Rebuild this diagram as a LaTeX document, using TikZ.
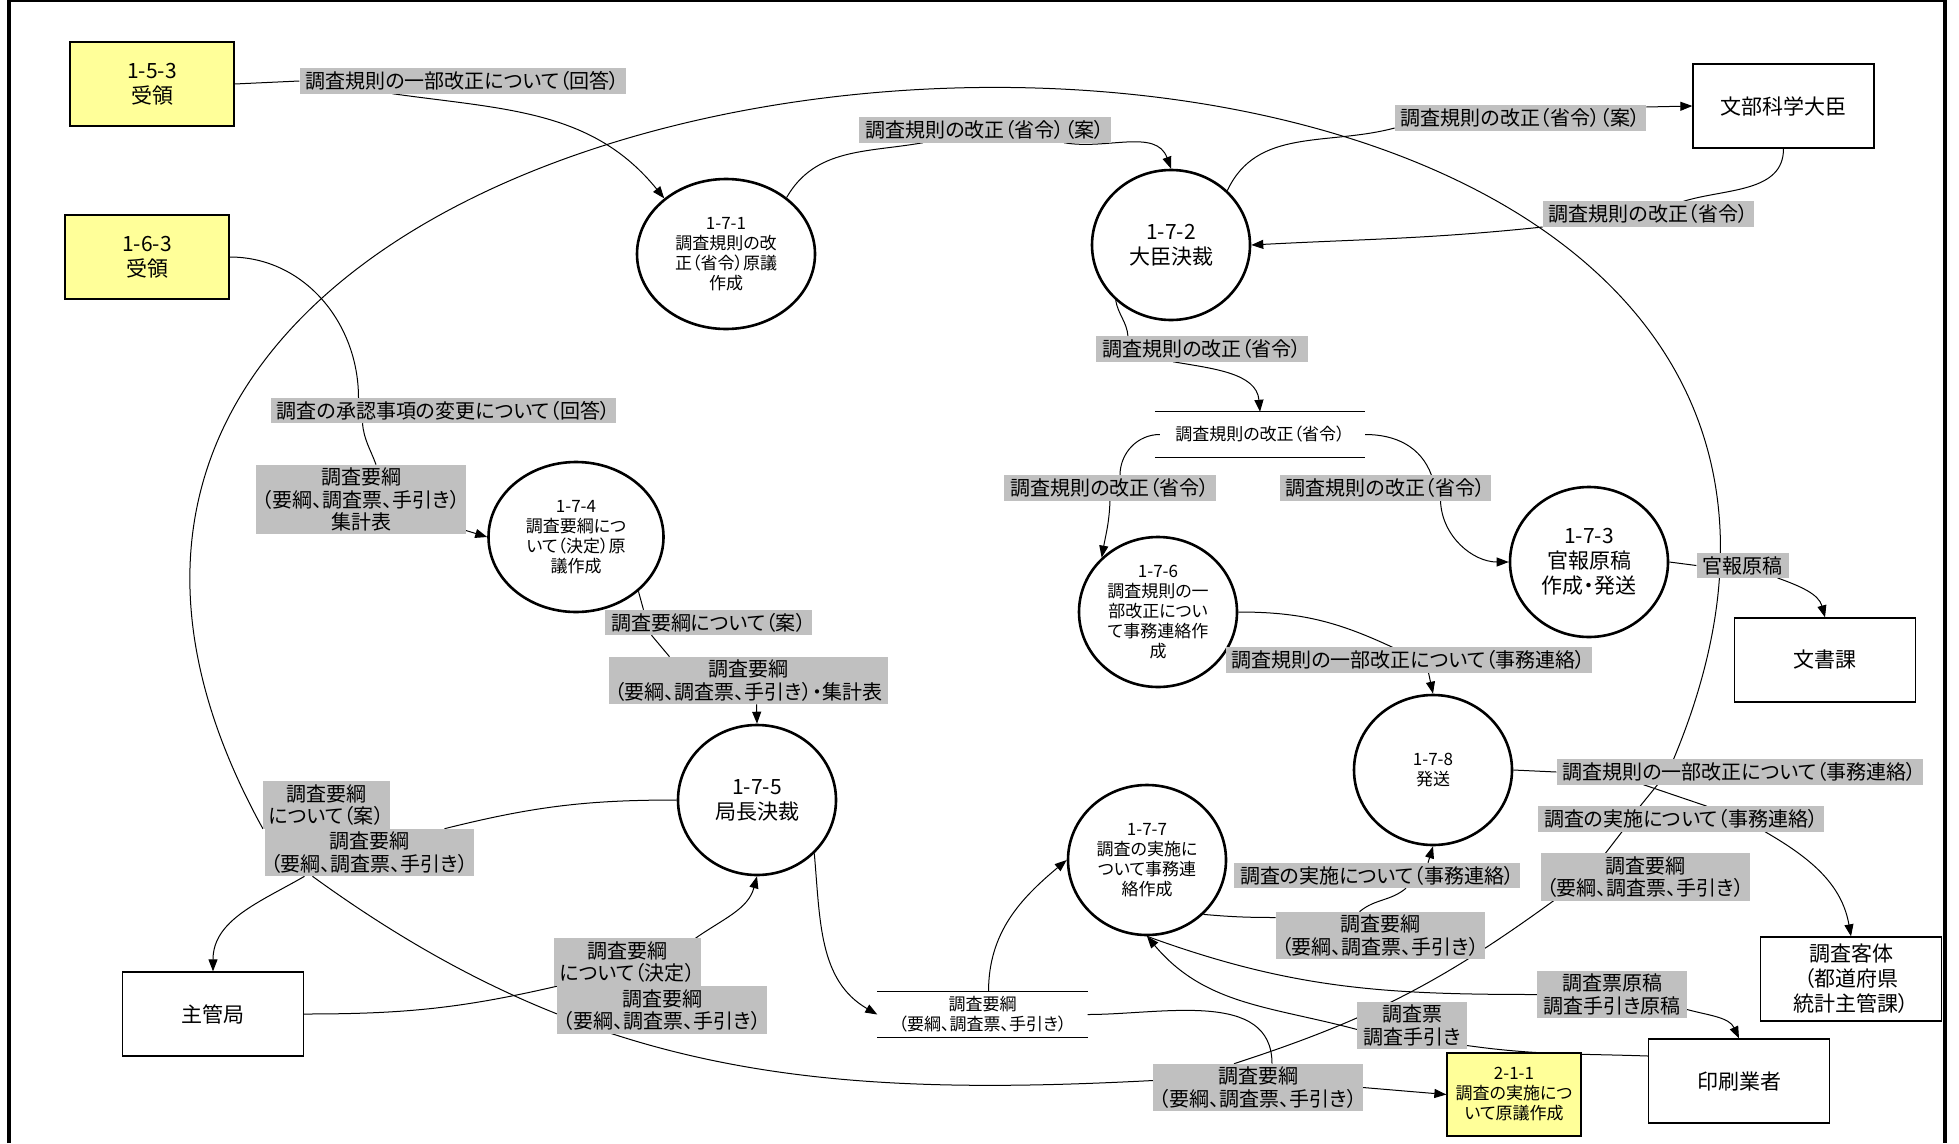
\documentclass[tikz,border=0pt]{standalone}
\usepackage{fontspec}
\setmainfont{Noto Sans CJK JP}[RawFeature=+palt]
\usetikzlibrary{arrows.meta,shapes.geometric,backgrounds}

\definecolor{recvyellow}{HTML}{FFFF99}
\definecolor{lblgray}{HTML}{C0C0C0}
\newcommand{\fbig}{\fontsize{21pt}{25pt}\selectfont}
\newcommand{\flbl}{\fontsize{20pt}{22.5pt}\selectfont}
\newcommand{\fsmall}{\fontsize{17pt}{20pt}\selectfont}

\tikzset{
  proc/.style={ellipse, draw, line width=2.6pt, fill=white, minimum width=158pt, minimum height=150pt, inner sep=0pt, align=center},
  ent/.style={rectangle, draw, line width=1.3pt, fill=white, minimum width=181pt, minimum height=84pt, align=center, font=\fbig},
  recv/.style={ent, fill=recvyellow, minimum width=164pt},
  lbl/.style={rectangle, fill=lblgray, inner xsep=6pt, inner ysep=3pt, align=center, font=\flbl},
  store/.style={rectangle, minimum width=210pt, minimum height=45pt, inner sep=0pt, align=center, font=\fsmall},
  link/.style={draw, line width=1pt},
  flow/.style={link, -{Triangle[length=12pt,width=9pt]}}
}

\begin{document}
\begin{tikzpicture}[x=1pt, y=1pt]
\useasboundingbox (0,0) rectangle (1959,-1143);
\draw[line width=4pt] (9,-1143) -- (9,0) -- (1945,0) -- (1945,-1143);

% processes
\path
(726,-254) node(p171) [proc, minimum width=178pt, font=\fsmall] {1-7-1\\調査規則の改\\正（省令）原議\\作成}
(1171,-245) node(p172) [proc, font=\fbig] {1-7-2\\大臣決裁}
(1589,-562) node(p173) [proc, font=\fbig] {1-7-3\\官報原稿\\作成・発送}
(576,-537) node(p174) [proc, minimum width=175pt, font=\fsmall] {1-7-4\\調査要綱につ\\いて（決定）原\\議作成}
(757,-800) node(p175) [proc, font=\fbig] {1-7-5\\局長決裁}
(1158,-612) node(p176) [proc, font=\fsmall] {1-7-6\\調査規則の一\\部改正につい\\て事務連絡作\\成}
(1147,-860) node(p177) [proc, font=\fsmall] {1-7-7\\調査の実施に\\ついて事務連\\絡作成}
(1433,-770) node(p178) [proc, font=\fsmall] {1-7-8\\発送};

% outside parties
\path
(152,-84) node(b153) [recv] {1-5-3\\受領}
(147,-257) node(b163) [recv] {1-6-3\\受領}
(1514,-1094.5) node(b211) [recv, minimum width=134pt, minimum height=83pt, font=\fsmall] {2-1-1\\調査の実施につ\\いて原議作成}
(1783.5,-106) node(monka) [ent] {文部科学大臣}
(1825,-660) node(bunsho) [ent] {文書課}
(1851,-979) node(kyakutai) [ent] {調査客体\\（都道府県\\統計主管課）}
(1739,-1081) node(insatsu) [ent] {印刷業者}
(213,-1014) node(shukan) [ent] {主管局};

% data stores
\path
(1260,-434.5) node(s1) [store] {調査規則の改正（省令）}
(982.5,-1014.5) node(s2) [store] {調査要綱\\（要綱、調査票、手引き）};
\draw[line width=1pt] (s1.north west) -- (s1.north east) (s1.south west) -- (s1.south east)
  (s2.north west) -- (s2.north east) (s2.south west) -- (s2.south east);

% flow labels
\path
(462.5,-81) node(l1) [lbl] {調査規則の一部改正について（回答）}
(985,-130) node(l2) [lbl] {調査規則の改正（省令）（案）}
(1520.5,-118) node(l3) [lbl] {調査規則の改正（省令）（案）}
(1648.5,-214) node(l4) [lbl] {調査規則の改正（省令）}
(1202,-349) node(l5) [lbl] {調査規則の改正（省令）}
(1110,-488) node(l6) [lbl] {調査規則の改正（省令）}
(1385.5,-488) node(l7) [lbl] {調査規則の改正（省令）}
(1742.5,-565.5) node(l8) [lbl] {官報原稿}
(1408.5,-660) node(l9) [lbl] {調査規則の一部改正について（事務連絡）}
(1739.5,-772) node(l10) [lbl] {調査規則の一部改正について（事務連絡）}
(1681,-819) node(l11) [lbl] {調査の実施について（事務連絡）}
(1377,-875.5) node(l12) [lbl] {調査の実施について（事務連絡）}
(1380.5,-935.5) node(l13) [lbl] {調査要綱\\（要綱、調査票、手引き）}
(1645.5,-877) node(l14) [lbl] {調査要綱\\（要綱、調査票、手引き）}
(1412,-1025.5) node(l15) [lbl] {調査票\\調査手引き}
(1258,-1087.5) node(l16) [lbl] {調査要綱\\（要綱、調査票、手引き）}
(369.5,-852.5) node(l17) [lbl] {調査要綱\\（要綱、調査票、手引き）}
(326.5,-805) node(l18) [lbl] {調査要綱\\について（案）}
(443.5,-410.5) node(l19) [lbl] {調査の承認事項の変更について（回答）}
(361,-499.5) node(l20) [lbl] {調査要綱\\（要綱、調査票、手引き）\\集計表}
(708.5,-622.5) node(l21) [lbl] {調査要綱について（案）}
(748.5,-680.5) node(l22) [lbl] {調査要綱\\（要綱、調査票、手引き）・集計表}
(627.5,-962) node(l23) [lbl] {調査要綱\\について（決定）}
(662,-1010) node(l24) [lbl] {調査要綱\\（要綱、調査票、手引き）}
(1612,-994.5) node(l25) [lbl] {調査票原稿\\調査手引き原稿};

\begin{pgfonlayer}{background}
% flows
\draw
(b153.east) edge[link] (l1.west)
([xshift=-70pt]l1.south) edge[flow, out=-8, in=129] (p171.138)
(p171.43) edge[link, out=60, in=-170] ([xshift=-62pt]l2.south)
([xshift=79pt]l2.south) edge[flow, out=-10, in=110] (p172.north)
(p172.44) edge[link, out=65, in=-165] ([yshift=-10pt]l3.west)
([yshift=11pt]l3.east) edge[flow] (monka.west)
(monka.south) edge[link, out=-90, in=17] ([xshift=35pt]l4.north)
([yshift=-13pt]l4.west) edge[flow, out=-174, in=3] (p172.east)
(p172.-135) edge[link, out=-80, in=95] ([xshift=-74pt]l5.north)
([xshift=-29pt]l5.south) edge[flow, out=-10, in=95] (s1.north)
([xshift=5pt]s1.west) edge[link, out=180, in=90] ([xshift=10pt]l6.north)
(l6.south) edge[flow, out=-92, in=80] (p176.136)
(s1.east) edge[link, out=0, in=110] ([xshift=46pt]l7.north)
([xshift=55pt]l7.south) edge[flow, out=-88, in=180] (p173.west)
(p173.east) edge[link] (l8.west)
([xshift=35pt]l8.south) edge[flow, out=-20, in=105] (bunsho.north)
(p176.east) edge[link, out=0, in=155] ([xshift=-16pt]l9.north)
([xshift=20pt]l9.south) edge[flow] (p178.north)
(p178.east) edge[link] (l10.west)
([xshift=-96pt]l10.south) edge[link] ([xshift=26pt]l11.north)
([xshift=84pt]l11.south) edge[flow, out=-30, in=100] (kyakutai.north)
(p177.-44) edge[link, out=-5, in=180] ([yshift=18pt]l13.west)
([xshift=-21pt]l13.north) edge[link, out=40, in=-140] ([xshift=29pt]l12.south)
([xshift=51pt]l12.north) edge[flow] (p178.south)
(p175.west) edge[link, out=180, in=14] ([xshift=75pt]l17.north)
([xshift=-65pt]l17.south) edge[flow, out=-150, in=90] (shukan.north)
(shukan.east) edge[link, out=0, in=-167] (l24.north west)
([xshift=68pt]l23.north) edge[flow, out=35, in=-105] (p175.south)
(p175.-43) edge[flow, out=-85, in=150] (s2.west)
([xshift=6pt]s2.north) edge[flow, out=90, in=-140] (p177.west)
(s2.east) edge[link, out=0, in=90] ([xshift=14pt]l16.north)
(l16.east) edge[flow] (b211.west)
(p177.south) edge[link, out=-20, in=180] (l25.west)
([yshift=-15pt]l25.east) edge[flow, out=-15, in=115] (insatsu.north)
([yshift=25pt]insatsu.west) edge[link, out=178, in=-8] ([yshift=-20pt]l15.east)
([yshift=-4pt]l15.west) edge[flow, out=165, in=-50] (p177.south)
(p174.-41) edge[link] ([xshift=-65pt]l21.north)
([xshift=-57pt]l21.south) edge[link] ([xshift=-79pt]l22.north)
([xshift=8pt]l22.south) edge[flow] (p175.north)
(b163.east) edge[link, out=0, in=90] ([xshift=-85pt]l19.north)
([xshift=-81pt]l19.south) edge[link, out=-85, in=110] ([xshift=15pt]l20.north)
([yshift=-31pt]l20.east) edge[flow] (p174.west);
% the long loop round the whole system
\draw[link] (l18.south west) .. controls (-245,91) and (2075,201) .. ([xshift=-66pt]l10.north);
\draw[link] ([xshift=-82pt]l10.south) -- ([xshift=-41pt]l11.north)
  ([xshift=-59pt]l11.south) -- ([xshift=-40pt]l14.north)
  ([xshift=-92pt]l14.south) to[out=-144, in=18] ([xshift=-24pt]l16.north)
  ([yshift=7pt]l16.west) to[out=183, in=-36] ([xshift=-57pt]l17.south);
\end{pgfonlayer}
\end{tikzpicture}
\end{document}
